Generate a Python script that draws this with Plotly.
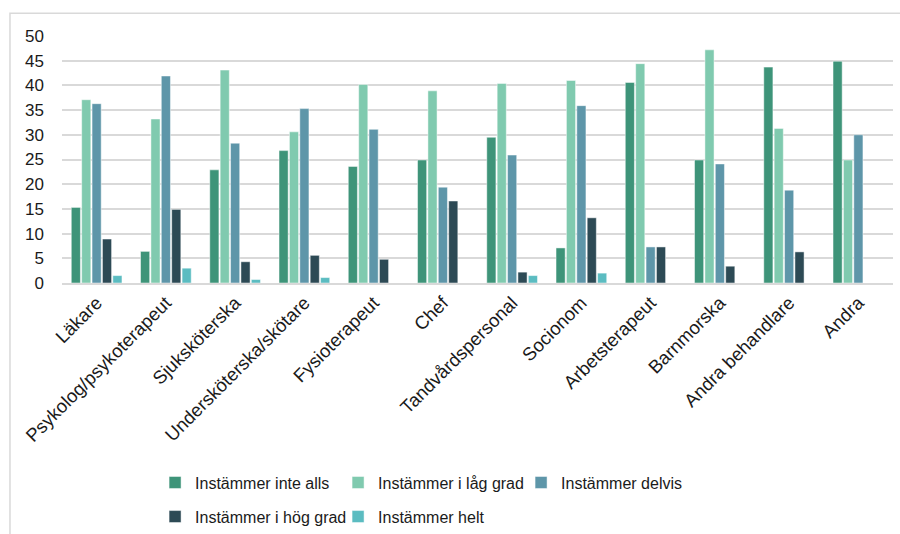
import plotly.graph_objects as go

# Yrkesgrupper och andel svar per svarsalternativ (%)
categories = [
    "Läkare", "Psykolog/psykoterapeut", "Sjuksköterska", "Undersköterska/skötare",
    "Fysioterapeut", "Chef", "Tandvårdspersonal", "Socionom", "Arbetsterapeut",
    "Barnmorska", "Andra behandlare", "Andra",
]

inte_alls = [15.3, 6.4, 22.9, 26.8, 23.6, 24.9, 29.5, 7.1, 40.6, 24.9, 43.7, 44.9]
lag_grad = [37.1, 33.2, 43.1, 30.6, 40.2, 38.9, 40.4, 41.0, 44.4, 47.2, 31.3, 24.9]
delvis = [36.3, 41.9, 28.3, 35.3, 31.1, 19.4, 25.9, 35.9, 7.3, 24.1, 18.8, 30.0]
hog_grad = [8.9, 14.9, 4.3, 5.6, 4.8, 16.6, 2.2, 13.2, 7.3, 3.4, 6.3, None]
helt = [1.5, 3.0, 0.7, 1.1, None, None, 1.5, 2.0, None, None, None, None]

series = [
    ("Instämmer inte alls", inte_alls, "#3E9479", "legend"),
    ("Instämmer i låg grad", lag_grad, "#80CAAF", "legend"),
    ("Instämmer delvis", delvis, "#5E96A9", "legend"),
    ("Instämmer i hög grad", hog_grad, "#2D4A55", "legend2"),
    ("Instämmer helt", helt, "#5BBCC1", "legend2"),
]

y_ticks = [0, 5, 10, 15, 20, 25, 30, 35, 40, 45, 50]

FONT = "Arial, Liberation Sans, sans-serif"
TEXT = "#1a1a1a"

fig = go.Figure()
for name, values, color, leg in series:
    fig.add_trace(go.Bar(
        x=categories,
        y=values,
        name=name,
        marker=dict(color=color, line=dict(color="rgba(255,255,255,0.6)", width=0.8)),
        legend=leg,
    ))

legend_common = dict(
    orientation="h",
    xanchor="left",
    yanchor="middle",
    font=dict(family=FONT, size=16, color=TEXT),
    bgcolor="rgba(0,0,0,0)",
    itemclick=False,
    traceorder="normal",
    entrywidth=138,
    entrywidthmode="pixels",
)

fig.update_layout(
    width=900,
    height=534,
    margin=dict(l=62, r=7, t=36, b=251, autoexpand=False),
    paper_bgcolor="white",
    plot_bgcolor="white",
    barmode="group",
    bargap=0.25,
    bargroupgap=0.12,
    font=dict(family=FONT, size=17, color=TEXT),
    legend=dict(x=0.112, y=-0.808, **legend_common),
    legend2=dict(x=0.112, y=-0.946, **legend_common),
    xaxis=dict(
        tickangle=-45,
        tickfont=dict(family=FONT, size=18.5, color=TEXT),
        showgrid=False,
        showline=True,
        linecolor="#D9D9D9",
        linewidth=1.5,
        ticks="",
        automargin=False,
    ),
    yaxis=dict(
        range=[0, 50],
        tickvals=y_ticks,
        tickfont=dict(family=FONT, size=17, color=TEXT),
        ticklabelstandoff=17,
        showgrid=True,
        gridcolor="#D9D9D9",
        gridwidth=1.5,
        zeroline=False,
        ticks="",
        ticklen=0,
        automargin=False,
    ),
    shapes=[
        # ram runt diagramytan
        dict(
            type="rect",
            xref="paper", yref="paper",
            x0=-0.0626, x1=1.2, y0=-1.3, y1=1.0917,
            line=dict(color="#D9D9D9", width=1.5),
            fillcolor="rgba(0,0,0,0)",
            layer="below",
        )
    ],
)

fig.write_html("out.html")
